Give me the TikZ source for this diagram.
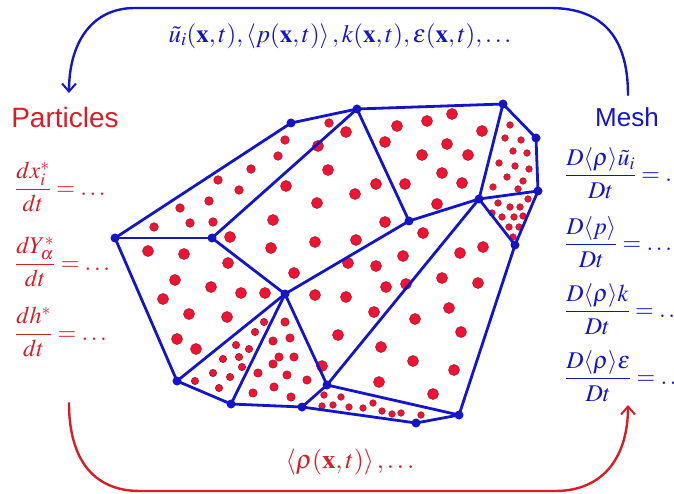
\documentclass[tikz,border=0pt]{standalone}
\usepackage{mathptmx}
\usepackage{amsmath,amsbsy}
\usepackage[no-math]{fontspec}
\setsansfont{Liberation Sans}
\usetikzlibrary{arrows.meta}

\definecolor{meshblue}{RGB}{20,20,200}
\definecolor{partred}{RGB}{215,30,40}
\definecolor{dotred}{RGB}{240,20,50}
\definecolor{dotrim}{RGB}{150,20,40}

\tikzset{
  mesh/.style={meshblue,line width=2.8pt,line join=round},
  vertex/.style={fill=meshblue},
  particle/.style={fill=dotred,draw=dotrim,line width=0.5pt},
  flow/.style={line width=2.4pt,-{Straight Barb[length=8pt,width=14pt,line width=2pt]}},
}

\begin{document}
\begin{tikzpicture}[x=1pt,y=-1pt,line cap=round,every node/.style={inner sep=1pt}]
  \useasboundingbox (0,0) rectangle (674,494);
  \def\rb{5.5}
  \def\rs{3.3}
  % mesh vertices
  \coordinate (A) at (115,238);
  \coordinate (B) at (212,238);
  \coordinate (C) at (357,109);
  \coordinate (D) at (291,123);
  \coordinate (E) at (503,104);
  \coordinate (F) at (536,138);
  \coordinate (G) at (538,191);
  \coordinate (H) at (409,221);
  \coordinate (I) at (479,199);
  \coordinate (K) at (515,245);
  \coordinate (L) at (302,407);
  \coordinate (M) at (416,423);
  \coordinate (N) at (459,415);
  \coordinate (P) at (177,381);
  \coordinate (Q) at (231,404);
  \coordinate (R) at (285,294);
  \coordinate (S) at (327,385);
  % particles, cell by cell
  \foreach \p in {(285,140),(278,156),(251,169),(218,180),(239,190),(209,201),(180,208),(190,223),(213,222),(154,227),(329,123)}
    \path[particle] \p circle[radius=4.3];
  \foreach \p in {(148,251),(184,254),(175,280),(211,287),(241,293),(265,293),(163,299),(189,314),(227,317),(177,339),(196,349),(228,263),
                  (318,146),(346,132),(328,170),(286,186),(317,203),(273,220),(315,242),(230,237),(271,248),(294,273),(355,194),(376,184),(385,222),(356,240),
                  (397,126),(427,121),(452,114),(482,131),(385,142),(447,144),(422,155),(468,155),(442,173),(405,184),(462,183),(437,204),
                  (348,263),(376,266),(403,256),(423,233),(386,287),(406,284),(315,295),(346,297),(374,312),(338,335),(322,366),
                  (460,253),(483,247),(442,278),(478,283),(449,308),(415,319),(461,332),(381,347),(413,361),(454,370),(379,382),(433,394)}
    \path[particle] \p circle[radius=\rb];
  \foreach \p in {(510,125),(505,138),(521,140),(513,151),(527,153),(499,163),(515,166),(529,169),(507,177),(523,181),(493,187),(518,189),
                  (528,199),(498,203),(510,207),(520,207),(492,213),(502,217),(514,217),(523,216),(509,227),(519,227),(513,237),
                  (324,395),(341,397),(322,406),(333,405),(349,407),(363,408),(373,403),(382,411),(392,414),(401,413),(421,415)}
    \path[particle] \p circle[radius=\rs];
  \foreach \p in {(264,322),(255,332),(236,345),(249,349),(223,359),(239,357),(242,367),(213,373),(230,377),(195,381),(219,388)}
    \path[particle] \p circle[radius=3.7];
  \foreach \p in {(285,322),(273,341),(290,338),(279,357),(294,357),(273,364),(258,373),(287,375),(307,380),(274,387),(253,393),(291,397)}
    \path[particle] \p circle[radius=4.2];
  % mesh edges
  \draw[mesh] (A) -- (D) -- (C) -- (E) -- (F) -- (G) -- (K) -- (N) -- (M) -- (L) -- (Q) -- (P) -- cycle;
  \foreach \a/\b in {A/B,B/C,B/R,C/H,H/I,I/E,I/G,I/K,H/R,I/S,R/P,R/Q,R/S,S/L,S/N}
    \draw[mesh] (\a) -- (\b);
  \foreach \v in {A,B,C,D,E,F,G,H,I,K,L,M,N,P,Q,R,S}
    \fill[vertex] (\v) circle[radius=4.5];
  % labels
  \node[partred,font=\sffamily\fontsize{28}{30}\selectfont] (particles) at (65,117) {Particles};
  \node[meshblue,font=\sffamily\fontsize{26}{28}\selectfont] (mesh) at (627,117) {Mesh};
  \node[meshblue,font=\fontsize{25}{27}\selectfont\boldmath] (fields) at (340,36)
    {$\tilde{u}_i(\mathbf{x},t),\left\langle p(\mathbf{x},t)\right\rangle,k(\mathbf{x},t),\varepsilon(\mathbf{x},t),\ldots$};
  \node[partred,font=\fontsize{26}{28}\selectfont] (density) at (350,462)
    {$\left\langle \rho(\mathbf{x},t)\right\rangle,\ldots$};
  \begin{scope}[partred,every node/.style={anchor=west,inner sep=0pt,font=\fontsize{24}{26}\selectfont}]
    \node (dx) at (15,187) {$\dfrac{dx_i^{*}}{dt}=\ldots$};
    \node (dY) at (15,262) {$\dfrac{dY_\alpha^{*}}{dt}=\ldots$};
    \node (dh) at (15,332) {$\dfrac{dh^{*}}{dt}=\ldots$};
  \end{scope}
  \begin{scope}[meshblue,every node/.style={anchor=west,inner sep=0pt,font=\fontsize{24}{26}\selectfont}]
    \node (Du) at (565,173) {$\dfrac{D\langle\boldsymbol{\rho}\rangle\tilde{u}_i}{Dt}=\ldots$};
    \node (Dp) at (565,242) {$\dfrac{D\langle p\rangle}{Dt}=\ldots$};
    \node (Dk) at (565,309) {$\dfrac{D\langle\boldsymbol{\rho}\rangle k}{Dt}=\ldots$};
    \node (De) at (565,376) {$\dfrac{D\langle\boldsymbol{\rho}\rangle\varepsilon}{Dt}=\ldots$};
  \end{scope}
  % exchange arrows
  \coordinate (topR) at (628,95);
  \coordinate (topL) at (69,93);
  \coordinate (botL) at (69,403);
  \coordinate (botR) at (628,405);
  \draw[flow,meshblue] (topR) .. controls (628,40) and (605,8) .. (550,8) -- (135,8) .. controls (90,8) and (69,45) .. (topL);
  \draw[flow,partred] (botL) .. controls (69,455) and (90,491) .. (140,491) -- (555,491) .. controls (605,491) and (628,455) .. (botR);
\end{tikzpicture}
\end{document}
